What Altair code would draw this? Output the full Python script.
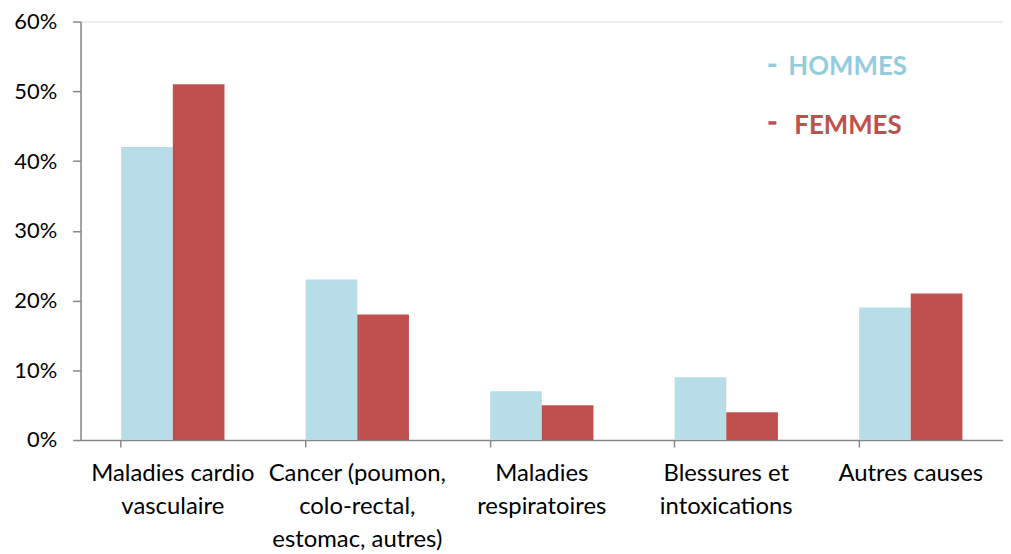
import altair as alt
import pandas as pd

categories = [
    "Maladies cardio\nvasculaire",
    "Cancer (poumon,\ncolo-rectal,\nestomac, autres)",
    "Maladies\nrespiratoires",
    "Blessures et\nintoxications",
    "Autres causes",
]
series = ["HOMMES", "FEMMES"]
hommes = [0.42, 0.23, 0.07, 0.09, 0.19]
femmes = [0.51, 0.18, 0.05, 0.04, 0.21]
colors = ["#B7DDE8", "#C0504D"]
legend_text_colors = ["#93CDDD", "#C0504D"]

rows = []
for c, h, f in zip(categories, hommes, femmes):
    rows.append({"cat": c, "serie": series[0], "val": h})
    rows.append({"cat": c, "serie": series[1], "val": f})
df = pd.DataFrame(rows)

FONT = "Lato"

bars = alt.Chart(df).mark_bar().encode(
    x=alt.X("cat:N", sort=categories, title=None,
            scale=alt.Scale(paddingInner=0.44, paddingOuter=0.22),
            axis=alt.Axis(labelAngle=0, bandPosition=0, ticks=True,
                          labelExpr="split(datum.label, '\\n')",
                          labelFont=FONT, labelFontSize=24, labelColor="#000000",
                          labelLineHeight=33, labelPadding=15, labelBaseline="top",
                          domainColor="#888888", tickColor="#888888", tickSize=7,
                          domainWidth=1.5, tickWidth=1.5, grid=False,
                          labelLimit=300)),
    xOffset=alt.XOffset("serie:N", sort=series),
    y=alt.Y("val:Q", title=None,
            scale=alt.Scale(domain=[0, 0.6], nice=False),
            axis=alt.Axis(format=".0%", values=[0, 0.1, 0.2, 0.3, 0.4, 0.5, 0.6],
                          labelFont=FONT, labelFontSize=22, labelColor="#000000",
                          domainColor="#888888", tickColor="#888888", tickSize=8,
                          domainWidth=1.5, tickWidth=1.5, grid=False, labelPadding=16)),
    color=alt.Color("serie:N", sort=series,
                    scale=alt.Scale(domain=series, range=colors), legend=None),
)

leg_df = pd.DataFrame({"serie": series})

leg_h_text = alt.Chart(leg_df).transform_filter(alt.datum.serie == series[0]).mark_text(
    font=FONT, fontSize=26, fontWeight="bold", align="left", baseline="middle",
    color=legend_text_colors[0]
).encode(text="serie:N", x=alt.value(712), y=alt.value(46))
leg_f_text = alt.Chart(leg_df).transform_filter(alt.datum.serie == series[1]).mark_text(
    font=FONT, fontSize=26, fontWeight="bold", align="left", baseline="middle",
    color=legend_text_colors[1]
).encode(text="serie:N", x=alt.value(718), y=alt.value(105))
leg_h_dash = alt.Chart(leg_df).transform_filter(alt.datum.serie == series[0]).mark_rule(
    color=legend_text_colors[0], strokeWidth=3.5
).encode(x=alt.value(692), x2=alt.value(700), y=alt.value(44))
leg_f_dash = alt.Chart(leg_df).transform_filter(alt.datum.serie == series[1]).mark_rule(
    color=legend_text_colors[1], strokeWidth=3.5
).encode(x=alt.value(692), x2=alt.value(700), y=alt.value(102))

chart = alt.layer(bars, leg_h_dash, leg_h_text, leg_f_dash, leg_f_text).properties(
    width=928, height=421,
    autosize=alt.AutoSizeParams(type="none"),
    padding={"left": 73, "top": 12, "right": 0, "bottom": 110},
).configure_view(stroke=None).configure(background="white")

chart.save("out.html", embed_options={"renderer": "svg", "actions": False})
